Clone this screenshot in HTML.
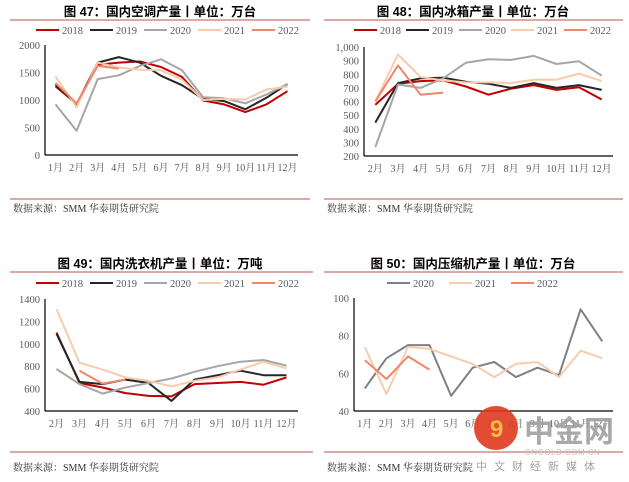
<!DOCTYPE html>
<html><head><meta charset="utf-8"><style>
body{margin:0;background:#fff;width:629px;height:482px;overflow:hidden;font-family:"Liberation Serif","Noto Serif CJK SC",serif}
svg{position:absolute;left:0;top:0}
</style></head><body>
<svg id="s" width="629" height="482" viewBox="0 0 629 482"></svg>
<script>
const m12=["1月","2月","3月","4月","5月","6月","7月","8月","9月","10月","11月","12月"];
const m11=["2月","3月","4月","5月","6月","7月","8月","9月","10月","11月","12月"];
const ac2018=[1250,930,1640,1680,1700,1600,1420,990,920,780,920,1160];
const ac2019=[1280,920,1680,1780,1680,1440,1270,1020,980,830,1040,1290];
const ac2020=[920,440,1380,1450,1620,1740,1540,1050,1030,940,1100,1290];
const ac2021=[1430,870,1680,1590,1550,1540,1370,1000,1020,1010,1190,1240];
const ac2022=[1310,940,1620,1570];
const acTicks=[0,500,1000,1500,2000];
const fr2018=[575,730,750,755,710,650,695,720,685,705,615];
const fr2019=[445,735,770,775,745,730,700,735,700,720,685];
const fr2020=[265,725,700,770,885,910,905,935,875,895,790];
const fr2021=[600,945,780,755,740,740,735,760,760,805,750];
const fr2022=[600,865,650,665];
const frTicks=[200,300,400,500,600,700,800,900,1000];
const wm2018=[1100,650,610,560,535,530,640,650,660,635,700];
const wm2019=[1090,660,640,680,650,490,680,720,760,720,720];
const wm2020=[775,640,555,610,650,690,750,800,840,855,805];
const wm2021=[1310,830,770,700,670,620,670,700,770,840,780];
const wm2022=[null,760,645,680];
const wmTicks=[400,600,800,1000,1200,1400];
const cp2020=[52,68,75,75,48,63,66,58,63,59,94,77];
const cp2021=[74,49,74,73,69,65,58,65,66,58,72,68];
const cp2022=[67,57,69,62];
const cpTicks=[40,60,80,100];

const S=document.getElementById('s');const NS="http://www.w3.org/2000/svg";
function E(t,a,p){const e=document.createElementNS(NS,t);for(const k in a)e.setAttribute(k,a[k]);(p||S).appendChild(e);return e;}
const C={"2018":"#C00000","2019":"#262626","2020":"#A6A6A6","2021":"#F8CBAD","2022":"#F0866A"};

function panel(o){
 const g=E('g',{});
 
 
 const t=E('text',{x:o.cx,y:o.ty,'text-anchor':'middle','font-size':12.5,'font-weight':'bold','font-family':'"Liberation Sans","Noto Sans CJK SC",sans-serif',fill:'#000'},g);
 t.textContent=o.title;
 
 
 const r=E('line',{x1:o.L,x2:o.R2,y1:o.ty+4,y2:o.ty+4,stroke:'#C0504D','stroke-width':1.2,opacity:0.8},g);
 
 
 const f=E('line',{x1:o.L,x2:o.R2,y1:o.fr,y2:o.fr,stroke:'#C0504D','stroke-width':1.2,opacity:0.8},g);
 
 
 const st=E('text',{x:o.L+3,y:o.fy,'font-size':10,fill:'#333'},g);
 st.textContent="数据来源：SMM 华泰期货研究院";
 
 
 const y=v=>o.y0+(v-o.tk[0])/(o.tk[o.tk.length-1]-o.tk[0])*(o.y1-o.y0);
 const bw=(o.x1-o.x0)/o.cats.length;const x=i=>o.x0+bw*(i+0.5);
 E('line',{x1:o.x0,x2:o.x0,y1:o.y1,y2:o.y0,stroke:'#000','stroke-width':1.2},g);
 E('line',{x1:o.x0,x2:o.x1,y1:o.y0,y2:o.y0,stroke:'#000','stroke-width':1.2},g);
 o.tk.forEach(v=>{const tt=E('text',{x:o.x0-5,y:y(v)+4,'text-anchor':'end','font-size':10.5,fill:'#595959'},g);tt.textContent=o.fmt?o.fmt(v):v;
  
  });
 o.cats.forEach((c,i)=>{const tt=E('text',{x:x(i),y:o.y0+16,'text-anchor':'middle','font-size':10,fill:'#595959'},g);tt.textContent=c;
  
  });
 o.series.forEach(s=>{
  let d="";let pen=false;s.v.forEach((v,i)=>{if(v==null){pen=false;return;}d+=(pen?"L":"M")+x(i).toFixed(1)+","+y(v).toFixed(1);pen=true;});
  const p=E('path',{d:d,fill:'none',stroke:s.c,'stroke-width':2,'stroke-linejoin':'round'},g);
  
  
 });
 o.series.forEach((s,i)=>{const lx=o.lx[i];
  const lg=E('g',{},g);
  
  
  E('line',{x1:lx-26,x2:lx-3,y1:o.ly-4,y2:o.ly-4,stroke:s.c,'stroke-width':2},lg);
  const lt=E('text',{x:lx,y:o.ly,'font-size':10.5,fill:'#595959'},lg);lt.textContent=s.n;});
}
const sp=(a)=>[a,a+54,a+108,a+162,a+216];
panel({name:'ac-chart',title:'图 47：国内空调产量丨单位：万台',cx:160,ty:16,L:10,R2:310,fr:199,fy:212,x0:45,x1:298,y0:155,y1:45,tk:acTicks,cats:m12,ly:34,lx:sp(62),
 series:[{n:"2018",v:ac2018,c:C["2018"]},{n:"2019",v:ac2019,c:C["2019"]},{n:"2020",v:ac2020,c:C["2020"]},{n:"2021",v:ac2021,c:C["2021"]},{n:"2022",v:ac2022,c:C["2022"]}]});
panel({name:'fridge-chart',title:'图 48：国内冰箱产量丨单位：万台',cx:473,ty:16,L:324,R2:623,fr:199,fy:212,x0:364,x1:613,y0:156,y1:47,tk:frTicks,cats:m11,ly:34,lx:[380,432,485,537,590],fmt:v=>v>=1000?"1,000":v,
 series:[{n:"2018",v:fr2018,c:C["2018"]},{n:"2019",v:fr2019,c:C["2019"]},{n:"2020",v:fr2020,c:C["2020"]},{n:"2021",v:fr2021,c:C["2021"]},{n:"2022",v:fr2022,c:C["2022"]}]});
panel({name:'wm-chart',title:'图 49：国内洗衣机产量丨单位：万吨',cx:160,ty:268,L:10,R2:313,fr:452,fy:471,x0:45,x1:298,y0:411,y1:299,tk:wmTicks,cats:m11,ly:287,lx:sp(62),
 series:[{n:"2018",v:wm2018,c:C["2018"]},{n:"2019",v:wm2019,c:C["2019"]},{n:"2020",v:wm2020,c:C["2020"]},{n:"2021",v:wm2021,c:C["2021"]},{n:"2022",v:wm2022,c:C["2022"]}]});
panel({name:'compressor-chart',title:'图 50：国内压缩机产量丨单位：万台',cx:473,ty:268,L:324,R2:623,fr:452,fy:471,x0:354,x1:613,y0:411,y1:298,tk:cpTicks,cats:m12,ly:287,lx:[413,475,537],
 series:[{n:"2020",v:cp2020,c:"#808080"},{n:"2021",v:cp2021,c:C["2021"]},{n:"2022",v:cp2022,c:C["2022"]}]});
const wg=E('g',{opacity:0.9});


E('circle',{cx:496,cy:428,r:22,fill:'#E03A1E'},wg);
E('text',{x:490,y:437,'font-size':24,'font-weight':'bold',fill:'#F7B733','font-family':'"Liberation Sans",sans-serif'},wg).textContent="9";
E('text',{x:524,y:442,'font-size':30,'font-weight':'bold',fill:'#A0A0A0','font-family':'"Noto Sans CJK SC",sans-serif'},wg).textContent="中金网";
E('text',{x:525,y:455,'font-size':8,fill:'#bbb','font-family':'"Liberation Sans",sans-serif','letter-spacing':'0.5'},wg).textContent="CNGOLD.COM.CN";
E('text',{x:476,y:470,'font-size':11,fill:'#999','letter-spacing':'7','font-family':'"Noto Sans CJK SC",sans-serif'},wg).textContent="中文财经新媒体";
</script>
</body></html>
